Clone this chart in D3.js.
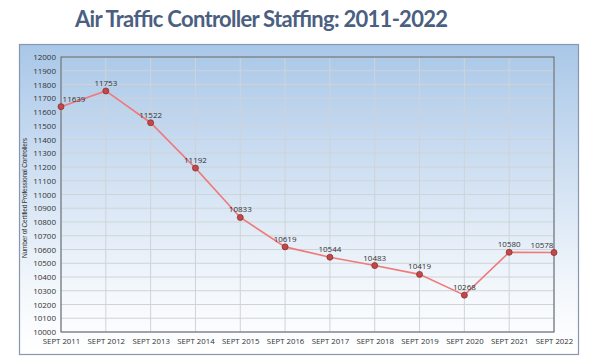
<!DOCTYPE html>
<html><head><meta charset="utf-8">
<script src="https://cdn.jsdelivr.net/npm/d3@7"></script>
<style>body{margin:0;background:#fff;}svg{display:block;}</style>
</head><body>
<svg id="c" width="600" height="364"></svg>
<script>
const categories = ["SEPT 2011","SEPT 2012","SEPT 2013","SEPT 2014","SEPT 2015","SEPT 2016","SEPT 2017","SEPT 2018","SEPT 2019","SEPT 2020","SEPT 2021","SEPT 2022"];
const staffing = [11639,11753,11522,11192,10833,10619,10544,10483,10419,10268,10580,10578];
const yTicks = d3.range(10000, 12001, 100);

const svg = d3.select("#c");
const outer = {x:19, y:44, w:559, h:310};
const m = {l:61, t:57, r:554, b:332};

const defs = svg.append("defs");
const g1 = defs.append("linearGradient").attr("id","bg").attr("x1",0).attr("y1",0).attr("x2",0).attr("y2",1);
g1.append("stop").attr("offset","0%").attr("stop-color","#a9c7e8");
g1.append("stop").attr("offset","80%").attr("stop-color","#f4f8fc");
g1.append("stop").attr("offset","100%").attr("stop-color","#ffffff");

svg.append("text").attr("x",75).attr("y",27)
  .attr("font-family","Lato, 'Open Sans', sans-serif").attr("font-weight","bold")
  .attr("font-size",22).attr("fill","#4b5f81").attr("textLength",373).attr("lengthAdjust","spacing")
  .text("Air Traffic Controller Staffing: 2011-2022");

svg.append("rect").attr("x",outer.x+0.5).attr("y",outer.y+0.5).attr("width",outer.w).attr("height",outer.h)
  .attr("fill","url(#bg)").attr("stroke","#8797b0").attr("stroke-width",1.2);

const x = d3.scalePoint().domain(categories).range([m.l, m.r]);
const y = d3.scaleLinear().domain([10000,12000]).range([m.b, m.t]);

// grid
svg.append("g").selectAll("line").data(yTicks).join("line")
  .attr("x1",m.l).attr("x2",m.r).attr("y1",d=>y(d)).attr("y2",d=>y(d))
  .attr("stroke","#cfd3d8").attr("stroke-width",1);
svg.append("g").selectAll("line").data(categories).join("line")
  .attr("x1",d=>x(d)).attr("x2",d=>x(d)).attr("y1",m.t).attr("y2",m.b)
  .attr("stroke","#cfd3d8").attr("stroke-width",1);

// plot border
svg.append("rect").attr("x",m.l).attr("y",m.t).attr("width",m.r-m.l).attr("height",m.b-m.t)
  .attr("fill","none").attr("stroke","#5a6068").attr("stroke-width",1);

// axes
const yAxis = svg.append("g").attr("transform",`translate(${m.l},0)`)
  .call(d3.axisLeft(y).tickValues(yTicks).tickSize(0).tickPadding(5).tickFormat(d3.format("d")));
yAxis.select(".domain").remove();
yAxis.selectAll("text").attr("font-family","'Open Sans', sans-serif").attr("font-size",8).attr("fill","#333");

const xAxis = svg.append("g").attr("transform",`translate(0,${m.b})`)
  .call(d3.axisBottom(x).tickSize(0).tickPadding(6));
xAxis.select(".domain").remove();
xAxis.selectAll("text").attr("font-family","'Open Sans', sans-serif").attr("font-size",7.8).attr("fill","#333");

svg.append("text").attr("transform",`translate(27,198) rotate(-90)`)
  .attr("text-anchor","middle").attr("font-family","'Liberation Sans Narrow', 'Liberation Sans', sans-serif")
  .attr("font-size",6.6).attr("fill","#333").attr("textLength",120)
  .text("Number of Certified Professional Controllers");

// line
const pts = categories.map((c,i)=>({c, v:staffing[i]}));
svg.append("path").datum(pts)
  .attr("d", d3.line().x(d=>x(d.c)).y(d=>y(d.v)))
  .attr("fill","none").attr("stroke","#ee7a7a").attr("stroke-width",1.6);

svg.append("g").selectAll("circle").data(pts).join("circle")
  .attr("cx",d=>x(d.c)).attr("cy",d=>y(d.v)).attr("r",3)
  .attr("fill","#c44848").attr("stroke","#8a3030").attr("stroke-width",0.8);

svg.append("g").selectAll("text").data(pts).join("text")
  .attr("x",d=>Math.min(Math.max(x(d.c), m.l+13), m.r-12))
  .attr("y",d=>y(d.v)-5)
  .attr("text-anchor","middle").attr("font-family","'Open Sans', sans-serif")
  .attr("font-size",8).attr("fill","#333").text(d=>d.v);
</script>
</body></html>
